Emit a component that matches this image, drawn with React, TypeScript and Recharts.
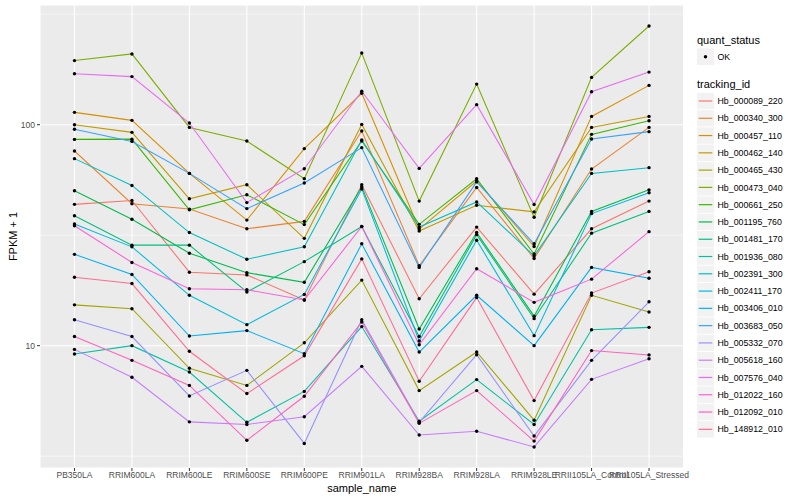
import React from 'react';
import { LineChart, Line, XAxis, YAxis, CartesianGrid, ReferenceLine } from 'recharts';

const categories = ['PB350LA', 'RRIM600LA', 'RRIM600LE', 'RRIM600SE', 'RRIM600PE', 'RRIM901LA', 'RRIM928BA', 'RRIM928LA', 'RRIM928LE', 'RRII105LA_Control', 'RRII105LA_Stressed'];

const trackingIds = ['Hb_000089_220', 'Hb_000340_300', 'Hb_000457_110', 'Hb_000462_140', 'Hb_000465_430', 'Hb_000473_040', 'Hb_000661_250', 'Hb_001195_760', 'Hb_001481_170', 'Hb_001936_080', 'Hb_002391_300', 'Hb_002411_170', 'Hb_003406_010', 'Hb_003683_050', 'Hb_005332_070', 'Hb_005618_160', 'Hb_007576_040', 'Hb_012022_160', 'Hb_012092_010', 'Hb_148912_010'];

const colors = ['#F8766D', '#EA8331', '#D89000', '#C09B00', '#A3A500', '#7CAE00', '#39B600', '#00BB4E', '#00BF7D', '#00C1A3', '#00BFC4', '#00BAE0', '#00B0F6', '#35A2FF', '#9590FF', '#C77CFF', '#E76BF3', '#FA62DB', '#FF62BC', '#FF6C91'];

const hb_000089_220 = [43.6, 45.4, 21.5, 20.9, 16.1, 53.5, 16.3, 34.4, 17.1, 33.8, 45.1];
const hb_000340_300 = [76, 43.9, 41.5, 33.8, 36.5, 93.6, 23.0, 52, 24.8, 63, 97.2];
const hb_000457_110 = [113.7, 104.6, 60.2, 37.0, 77.9, 138.7, 33.7, 55.6, 28.1, 109, 150.6];
const hb_000462_140 = [100, 92.3, 46.2, 53.5, 30.6, 100.3, 33.0, 43.2, 40.3, 97.2, 109];
const hb_000465_430 = [15.3, 14.7, 7.9, 6.61, 10.3, 19.8, 6.26, 9.36, 4.6, 16.9, 14.2];
const hb_000473_040 = [195, 209, 97.2, 84.3, 57.0, 211, 45.1, 152.6, 38.1, 163.7, 279.6];
const hb_000661_250 = [85.8, 86, 41.2, 48.2, 35.3, 84.4, 35.4, 56.9, 26.0, 90.4, 104.2];
const hb_001195_760 = [50.2, 37.3, 26.2, 21.4, 19.35, 52.3, 11.9, 32.5, 13.6, 40.5, 50.7];
const hb_001481_170 = [38.7, 28.5, 28.5, 17.5, 24.0, 34.6, 11.0, 31.8, 13.25, 32.3, 40.5];
const hb_001936_080 = [9.17, 10.0, 7.6, 4.5, 6.21, 12.2, 4.55, 7.02, 4.4, 11.8, 12.1];
const hb_002391_300 = [70.2, 53.1, 32.5, 24.6, 28.05, 85.2, 34.4, 44.7, 25.5, 60.2, 63.9];
const hb_002411_170 = [35.5, 28.0, 16.9, 12.45, 17.06, 51.2, 10.5, 30.0, 11.1, 39.6, 49.2];
const hb_003406_010 = [25.9, 21.0, 11.06, 11.7, 9.2, 28.9, 9.36, 16.9, 10.0, 22.6, 20.2];
const hb_003683_050 = [95.3, 84.0, 60.2, 41.7, 54.5, 78.7, 22.6, 55.1, 28.9, 86.1, 93];
const hb_005332_070 = [13.1, 11.0, 5.92, 7.73, 3.61, 13.1, 4.5, 9.1, 3.9, 8.58, 15.8];
const hb_005618_160 = [9.62, 7.19, 4.52, 4.4, 4.77, 8.06, 3.94, 4.1, 3.48, 7.04, 8.73];
const hb_007576_040 = [170, 165, 101.7, 44.4, 63.2, 141.6, 63.4, 123.2, 43.5, 141, 173];
const hb_012022_160 = [34.9, 23.8, 18.1, 17.9, 16.1, 34.6, 10.1, 22.3, 15.7, 20.0, 32.8];
const hb_012092_010 = [11.0, 8.58, 6.61, 3.73, 5.9, 12.8, 4.45, 6.26, 3.7, 9.5, 9.08];
const hb_148912_010 = [20.4, 19.1, 9.43, 6.07, 9.0, 24.7, 6.9, 16.5, 5.64, 17.3, 21.6];

const seriesValues = [hb_000089_220, hb_000340_300, hb_000457_110, hb_000462_140, hb_000465_430, hb_000473_040, hb_000661_250, hb_001195_760, hb_001481_170, hb_001936_080, hb_002391_300, hb_002411_170, hb_003406_010, hb_003683_050, hb_005332_070, hb_005618_160, hb_007576_040, hb_012022_160, hb_012092_010, hb_148912_010];

const yTicks = [10, 100];
const yMinorTicks = [3.1623, 31.623, 316.23];

const data = categories.map((name, i) => {
  const row: Record<string, number | string> = { idx: i, name };
  trackingIds.forEach((id, s) => {
    row[id] = seriesValues[s][i];
  });
  return row;
});

const FONT = '"Liberation Sans", Arial, Helvetica, sans-serif';

function LegendOverlay() {
  const step = 17.28;
  const first = 101;
  return (
    <svg width={800} height={500} style={{ position: 'absolute', left: 0, top: 0, pointerEvents: 'none' }} fontFamily={FONT}>
      <text x={697} y={44} fontSize={11} fill="#000">quant_status</text>
      <rect x={697} y={48.5} width={17} height={16.5} fill="#F2F2F2" />
      <circle cx={705.5} cy={56.8} r={1.7} fill="#000" />
      <text x={717.5} y={60} fontSize={8.8} fill="#000">OK</text>
      <text x={697} y={88} fontSize={11} fill="#000">tracking_id</text>
      {trackingIds.map((id, i) => {
        const cy = first + i * step;
        return (
          <g key={id}>
            <rect x={697} y={cy - 8.2} width={17} height={16.4} fill="#F2F2F2" />
            <line x1={698.7} x2={712.3} y1={cy} y2={cy} stroke={colors[i]} strokeWidth={1.2} />
            <text x={717.5} y={cy + 3.1} fontSize={8.8} fill="#000">{id}</text>
          </g>
        );
      })}
    </svg>
  );
}

export default function App() {
  return (
    <div style={{ position: 'absolute', left: 0, top: 0, width: 800, height: 500, background: '#fff' }}>
      <LineChart width={800} height={500} data={data} margin={{ top: 5, right: 116.5, bottom: 0, left: 0 }}>
        <CartesianGrid fill="#EBEBEB" stroke="#FFFFFF" strokeWidth={1.07} horizontal vertical />
        {yMinorTicks.map((v) => (
          <ReferenceLine key={v} y={v} stroke="#FFFFFF" strokeWidth={0.55} ifOverflow="hidden" />
        ))}
        <XAxis
          dataKey="idx"
          type="number"
          domain={[-0.6, 10.6]}
          ticks={categories.map((_, i) => i)}
          interval={0}
          allowDataOverflow
          tickFormatter={(v: number) => categories[v] ?? ''}
          height={32}
          axisLine={false}
          tickLine={{ stroke: '#333333', strokeWidth: 1 }}
          tickSize={3}
          tickMargin={1}
          tick={{ fontSize: 8.5, fill: '#4D4D4D', fontFamily: FONT }}
          label={{ value: 'sample_name', position: 'insideBottom', offset: 8, fontSize: 11, fill: '#000', fontFamily: FONT }}
        />
        <YAxis
          type="number"
          scale="log"
          domain={[2.795, 348]}
          allowDataOverflow
          ticks={yTicks}
          width={40}
          axisLine={false}
          tickLine={{ stroke: '#333333', strokeWidth: 1 }}
          tickSize={3}
          tickMargin={2}
          tick={{ fontSize: 8.5, fill: '#4D4D4D', fontFamily: FONT }}
          label={{ value: 'FPKM + 1', angle: -90, position: 'insideLeft', offset: 13, fontSize: 11, fill: '#000', fontFamily: FONT, style: { textAnchor: 'middle' } }}
        />
        {trackingIds.map((id, i) => (
          <Line
            key={id}
            dataKey={id}
            type="linear"
            stroke={colors[i]}
            strokeWidth={1.07}
            dot={false}
            activeDot={false}
            isAnimationActive={false}
          />
        ))}
        {trackingIds.map((id) => (
          <Line
            key={id + '_pts'}
            dataKey={id}
            type="linear"
            stroke="none"
            strokeOpacity={0}
            dot={{ r: 1.7, fill: '#000000', stroke: 'none' }}
            activeDot={false}
            legendType="none"
            isAnimationActive={false}
          />
        ))}
      </LineChart>
      <LegendOverlay />
    </div>
  );
}
